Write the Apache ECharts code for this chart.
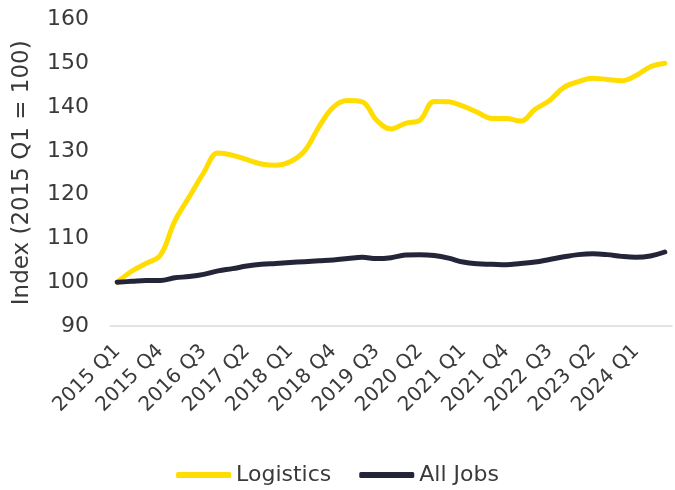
<!DOCTYPE html>
<html>
<head>
<meta charset="utf-8">
<script src="https://cdn.jsdelivr.net/npm/echarts@6/dist/echarts.min.js"></script>
<style>
  html, body { margin: 0; padding: 0; background: #ffffff; }
  #chart { width: 675px; height: 490px; }
</style>
</head>
<body>
<div id="chart"></div>
<script>
// Quarterly employment index, 2015 Q1 = 100
const quarters = [
  '2015 Q1', '2015 Q2', '2015 Q3', '2015 Q4',
  '2016 Q1', '2016 Q2', '2016 Q3', '2016 Q4',
  '2017 Q1', '2017 Q2', '2017 Q3', '2017 Q4',
  '2018 Q1', '2018 Q2', '2018 Q3', '2018 Q4',
  '2019 Q1', '2019 Q2', '2019 Q3', '2019 Q4',
  '2020 Q1', '2020 Q2', '2020 Q3', '2020 Q4',
  '2021 Q1', '2021 Q2', '2021 Q3', '2021 Q4',
  '2022 Q1', '2022 Q2', '2022 Q3', '2022 Q4',
  '2023 Q1', '2023 Q2', '2023 Q3', '2023 Q4',
  '2024 Q1', '2024 Q2', '2024 Q3'
];

const logistics = [
  100, 102.5, 104.3, 106.2, 114, 119.5, 125, 129.5, 129, 128,
  127, 126.7, 127.5, 130, 135.5, 140, 141.5, 141.2, 137, 135,
  136.3, 137, 141.3, 141.2, 140.2, 138.8, 137.4, 137.4, 136.8, 139.5,
  141.5, 144.5, 145.8, 146.6, 146.3, 146, 147.2, 149.2, 150
];

const allJobs = [
  100, 100.2, 100.4, 100.4, 101, 101.3, 101.8, 102.6, 103.1, 103.7,
  104.1, 104.3, 104.5, 104.7, 104.9, 105.1, 105.4, 105.7, 105.4, 105.6,
  106.2, 106.3, 106.1, 105.5, 104.6, 104.2, 104.1, 104.0, 104.3, 104.6,
  105.2, 105.8, 106.3, 106.5, 106.3, 105.9, 105.7, 106.0, 106.9
];

const yMin = 90, yMax = 160, yStep = 10;

const FONT = 'DejaVu Sans';
const TEXT = '#3a3a3a';
const YELLOW = '#FFDD00';
const NAVY = '#25253A';

const chart = echarts.init(document.getElementById('chart'), null, { renderer: 'canvas' });

chart.setOption({
  animation: false,
  textStyle: { fontFamily: FONT, color: TEXT },
  grid: { left: 110, right: 3, top: 19.5, bottom: 164 },
  legend: {
    top: 459,
    left: 'center',
    itemWidth: 55,
    itemHeight: 6,
    itemGap: 28,
    icon: 'roundRect',
    textStyle: { fontFamily: FONT, fontSize: 22, color: TEXT, padding: [0, 0, 0, 0] },
    data: ['Logistics', 'All Jobs']
  },
  xAxis: {
    type: 'category',
    data: quarters,
    boundaryGap: true,
    axisLine: { show: true, lineStyle: { color: '#dcdcdc', width: 1.5 } },
    axisTick: { show: false },
    axisLabel: {
      interval: 2,
      rotate: 45,
      margin: 22,
      fontFamily: FONT,
      fontSize: 20,
      color: TEXT
    },
    splitLine: { show: false }
  },
  yAxis: {
    type: 'value',
    min: yMin,
    max: yMax,
    interval: yStep,
    name: 'Index (2015 Q1 = 100)',
    nameLocation: 'middle',
    nameRotate: 90,
    nameGap: 76,
    nameTextStyle: { fontFamily: FONT, fontSize: 23, color: TEXT },
    axisLine: { show: false },
    axisTick: { show: false },
    axisLabel: { margin: 21, fontFamily: FONT, fontSize: 22, color: TEXT },
    splitLine: { show: false }
  },
  series: [
    {
      name: 'Logistics',
      type: 'line',
      data: logistics,
      smooth: 0.4,
      showSymbol: false,
      lineStyle: { color: YELLOW, width: 5, cap: 'round', join: 'round' },
      itemStyle: { color: YELLOW },
      z: 3
    },
    {
      name: 'All Jobs',
      type: 'line',
      data: allJobs,
      smooth: 0.4,
      showSymbol: false,
      lineStyle: { color: NAVY, width: 5, cap: 'round', join: 'round' },
      itemStyle: { color: NAVY },
      z: 4
    }
  ]
});
</script>
</body>
</html>
